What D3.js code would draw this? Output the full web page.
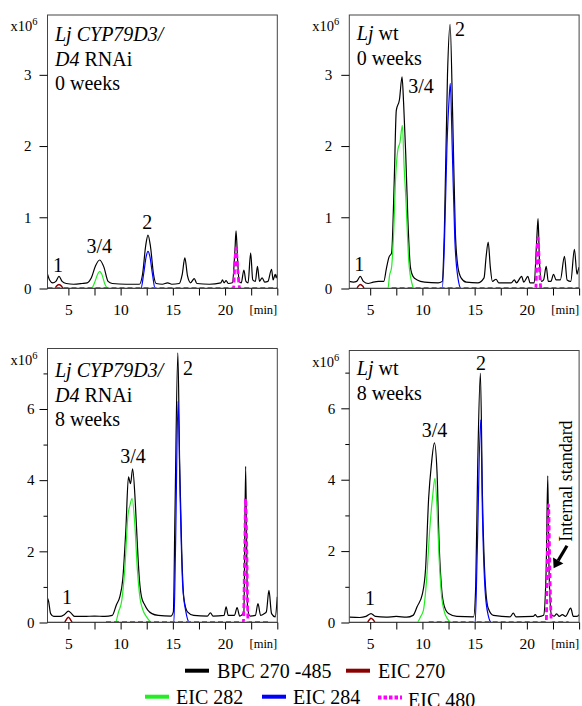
<!DOCTYPE html>
<html>
<head>
<meta charset="utf-8">
<script src="https://cdn.jsdelivr.net/npm/d3@7"></script>
<style>
body { margin: 0; background: #fff; }
svg { display: block; }
</style>
</head>
<body>
<div id="chart"></div>
<script>
// retention time window (min) and tick values
const timeDomain = [3, 25];
const timeTicks = [5, 7.5, 10, 12.5, 15, 17.5, 20, 22.5, 25];
const timeLabels = [5, 10, 15, 20];
const topYTicks = [0, 1, 2, 3];
const bottomYTicks = [0, 2, 4, 6];
const bottomYMinor = [1, 3, 5, 7];

const seriesNames = ["BPC 270 -485", "EIC 270", "EIC 282", "EIC 284", "EIC 480"];

// every trace: [retention time (min), intensity (x10^6)]
// Lj CYP79D3/D4 RNAi, 0 weeks
const rnai0Bpc = [[3.0,0.2],[3.2,0.12],[3.5,0.08],[3.8,0.1],[4.1,0.17],[4.4,0.1],[4.8,0.07],[5.5,0.06],[6.3,0.07],[6.8,0.08],
    [7.2,0.15],[7.6,0.32],[8.0,0.4],[8.4,0.3],[8.8,0.1],[9.2,0.07],[10.5,0.06],[11.8,0.06],[12.1,0.2],[12.4,0.6],[12.62,0.75],
    [12.85,0.6],[13.15,0.2],[13.4,0.07],[14.0,0.06],[14.5,0.08],[14.9,0.06],[15.6,0.07],[15.9,0.2],[16.15,0.43],[16.4,0.18],
    [16.7,0.08],[17.05,0.14],[17.3,0.07],[18.5,0.06],[19.6,0.08],[19.75,0.12],[19.9,0.08],[20.1,0.11],[20.3,0.07],[20.7,0.08],
    [20.95,0.55],[21.05,0.81],[21.2,0.4],[21.35,0.1],[21.55,0.08],[21.8,0.26],[22.0,0.1],[22.2,0.08],[22.45,0.5],[22.65,0.12],
    [22.9,0.1],[23.1,0.31],[23.3,0.1],[23.55,0.15],[23.8,0.09],[24.1,0.1],[24.45,0.27],[24.6,0.12],[24.8,0.2],[24.9,0.15],[25.0,0.2]];
const rnai0Eic270 = [[3,0],[3.7,0],[3.85,0.03],[4.1,0.055],[4.35,0.03],[4.5,0],[25,0]];
const rnai0Eic282 = [[3,0],[7.2,0],[7.5,0.08],[7.8,0.2],[8.0,0.24],[8.2,0.2],[8.5,0.06],[8.8,0],[25,0]];
const rnai0Eic284 = [[3,0],[11.95,0],[12.2,0.2],[12.45,0.45],[12.62,0.52],[12.8,0.45],[13.05,0.2],[13.3,0],[25,0]];
const rnai0Eic480 = [[3,0],[20.8,0],[20.95,0.4],[21.05,0.57],[21.2,0.3],[21.4,0],[25,0]];

// Lj wt, 0 weeks
const wt0Bpc = [[3.0,0.1],[3.4,0.09],[3.7,0.1],[4.05,0.17],[4.35,0.1],[4.8,0.07],[5.3,0.09],[5.8,0.1],[6.3,0.1],[6.55,0.28],
    [6.8,0.44],[7.05,0.5],[7.3,1.5],[7.5,2.5],[7.8,2.65],[8.05,2.97],[8.2,2.6],[8.4,1.9],[8.6,1.0],[8.85,0.3],[9.1,0.17],
    [9.5,0.12],[10.2,0.09],[11.5,0.08],[11.9,0.1],[12.1,0.8],[12.4,3.0],[12.65,3.71],[12.9,2.4],[13.15,0.8],[13.4,0.3],
    [13.7,0.15],[14.2,0.09],[15.3,0.08],[15.9,0.15],[16.1,0.45],[16.3,0.65],[16.5,0.3],[16.7,0.1],[17.05,0.13],[17.3,0.08],
    [18.5,0.08],[18.8,0.12],[19.0,0.08],[19.5,0.17],[19.7,0.09],[20.1,0.17],[20.3,0.08],[20.7,0.08],[20.95,0.7],[21.07,0.98],
    [21.2,0.4],[21.4,0.1],[21.6,0.12],[21.85,0.31],[22.05,0.1],[22.3,0.1],[22.55,0.2],[22.8,0.12],[23.2,0.12],[23.6,0.45],
    [23.85,0.12],[24.2,0.1],[24.55,0.55],[24.8,0.2],[24.9,0.25],[25.0,0.3]];
const wt0Eic270 = [[3,0],[3.7,0],[3.85,0.03],[4.05,0.056],[4.3,0.03],[4.45,0],[25,0]];
const wt0Eic282 = [[3,0],[6.7,0],[6.85,0.18],[7.05,0.3],[7.25,0.8],[7.45,1.6],[7.65,1.95],[7.85,2.05],[8.08,2.29],
    [8.25,1.7],[8.4,1.3],[8.7,0.37],[9.0,0.07],[9.2,0],[25,0]];
const wt0Eic284 = [[3,0],[11.9,0],[12.1,0.6],[12.35,2.0],[12.55,2.65],[12.67,2.88],[12.85,2.0],[13.1,0.7],[13.4,0.15],[13.7,0],[25,0]];
const wt0Eic480 = [[7.05,0],[20.85,0],[20.97,0.5],[21.07,0.71],[21.2,0.3],[21.35,0],[25,0]];

// Lj CYP79D3/D4 RNAi, 8 weeks
const rnai8Bpc = [[3.0,0.68],[3.1,0.6],[3.3,0.25],[3.6,0.17],[4.2,0.17],[4.6,0.22],[5.0,0.32],[5.3,0.25],[5.6,0.17],[6.5,0.17],
    [7.5,0.18],[8.5,0.17],[9.2,0.2],[9.6,0.5],[9.9,0.7],[10.2,1.2],[10.5,2.6],[10.75,4.09],[10.95,3.9],[11.15,4.32],[11.4,3.4],
    [11.6,2.2],[11.8,1.2],[12.0,0.72],[12.3,0.5],[12.6,0.35],[13.0,0.25],[13.6,0.2],[14.8,0.18],[15.05,0.3],[15.2,3.0],
    [15.48,7.58],[15.65,4.5],[15.85,2.0],[16.05,0.7],[16.4,0.3],[17.0,0.2],[18.3,0.18],[18.6,0.27],[18.85,0.18],[19.9,0.2],
    [20.1,0.44],[20.3,0.2],[20.9,0.2],[21.15,0.42],[21.4,0.18],[21.8,0.3],[21.97,4.39],[22.15,0.4],[22.4,0.18],[22.9,0.2],
    [23.15,0.53],[23.4,0.2],[23.75,0.25],[23.95,0.3],[24.2,0.9],[24.45,0.25],[24.8,0.16],[25.0,0.72]];
const rnai8Eic270 = [[3,0],[4.6,0],[4.8,0.08],[5.0,0.15],[5.2,0.08],[5.4,0],[25,0]];
const rnai8Eic282 = [[3,0],[9.5,0],[9.8,0.3],[10.1,0.6],[10.4,1.5],[10.7,3.0],[10.9,3.3],[11.1,3.48],[11.35,2.8],[11.6,1.5],
    [11.85,0.7],[12.1,0.38],[12.5,0.15],[13.0,0],[25,0]];
const rnai8Eic284 = [[3,0],[15.1,0],[15.25,2.0],[15.5,6.22],[15.7,3.5],[15.95,1.0],[16.25,0.3],[16.6,0],[25,0]];
const rnai8Eic480 = [[8.6,0],[21.75,0],[21.88,2.0],[21.97,3.48],[22.08,2.0],[22.2,0],[24.3,0]];

// Lj wt, 8 weeks
const wt8Bpc = [[3.0,0.15],[4.0,0.14],[4.6,0.17],[5.08,0.25],[5.5,0.17],[6.5,0.15],[7.5,0.17],[8.5,0.15],[9.1,0.2],[9.5,0.45],
    [10.0,0.8],[10.3,1.5],[10.6,3.5],[10.85,4.4],[11.15,5.03],[11.4,4.2],[11.6,2.2],[11.85,0.9],[12.1,0.45],[12.5,0.25],
    [13.3,0.17],[14.9,0.16],[15.1,1.0],[15.3,4.5],[15.55,6.98],[15.75,3.5],[16.0,1.2],[16.3,0.4],[16.8,0.2],[18.4,0.16],
    [18.7,0.26],[18.95,0.16],[20.6,0.17],[20.8,0.22],[21.0,0.16],[21.4,0.18],[21.6,0.2],[21.85,1.5],[22.0,4.11],[22.12,1.5],
    [22.35,0.22],[22.6,0.18],[22.85,0.24],[23.1,0.17],[23.4,0.22],[23.7,0.17],[24.2,0.4],[24.45,0.17],[24.8,0.17],[25.0,0.22]];
const wt8Eic270 = [[3,0],[4.7,0],[4.9,0.07],[5.08,0.12],[5.3,0.07],[5.5,0],[25,0]];
const wt8Eic282 = [[3,0],[9.5,0],[9.8,0.15],[10.1,0.35],[10.4,1.2],[10.7,2.6],[11.0,3.6],[11.2,4.04],[11.4,3.2],[11.6,1.8],
    [11.85,0.7],[12.1,0.3],[12.4,0.1],[12.8,0],[25,0]];
const wt8Eic284 = [[3,0],[15.05,0],[15.25,2.0],[15.58,5.68],[15.75,3.0],[16.0,0.9],[16.3,0.2],[16.6,0],[25,0]];
const wt8Eic480 = [[10.6,0],[21.85,0],[21.97,2.0],[22.07,3.3],[22.2,1.5],[22.35,0],[24.0,0]];

// peak numbers: [label, time, intensity]
const rnai0Peaks = [["1", 4.0, 0.23], ["3/4", 7.95, 0.5], ["2", 12.56, 0.83]];
const wt0Peaks = [["1", 3.96, 0.25], ["2", 13.6, 3.55]];
const rnai8Peaks = [["1", 4.86, 0.53], ["3/4", 11.19, 4.47], ["2", 16.45, 6.95]];
const wt8Peaks = [["1", 4.98, 0.5], ["3/4", 11.15, 5.19], ["2", 15.6, 7.08]];

const colors = ["#000000", "#8b0000", "#22ee22", "#0000ff", "#ff00ff"];

const panels = [
    { left: 47.5, top: 15, bottom: 288.5, ymax: 3.84, ticks: topYTicks, minor: [], pad: 8, titleY: 41,
      title: [[["Lj CYP79D3/", true]], [["D4", true], [" RNAi", false]], [["0 weeks", false]]],
      series: [rnai0Bpc, rnai0Eic270, rnai0Eic282, rnai0Eic284, rnai0Eic480], peaks: rnai0Peaks },
    { left: 349.3, top: 15, bottom: 288.5, ymax: 3.84, ticks: topYTicks, minor: [], pad: 9, titleY: 40,
      title: [[["Lj", true], [" wt", false]], [["0 weeks", false]]],
      series: [wt0Bpc, wt0Eic270, wt0Eic282, wt0Eic284, wt0Eic480], peaks: wt0Peaks },
    { left: 47.5, top: 348.5, bottom: 622.5, ymax: 7.7, ticks: bottomYTicks, minor: bottomYMinor, pad: 5, titleY: 377,
      title: [[["Lj CYP79D3/", true]], [["D4", true], [" RNAi", false]], [["8 weeks", false]]],
      series: [rnai8Bpc, rnai8Eic270, rnai8Eic282, rnai8Eic284, rnai8Eic480], peaks: rnai8Peaks },
    { left: 349.3, top: 350.5, bottom: 622.5, ymax: 7.62, ticks: bottomYTicks, minor: bottomYMinor, pad: 6, titleY: 375,
      title: [[["Lj", true], [" wt", false]], [["8 weeks", false]]],
      series: [wt8Bpc, wt8Eic270, wt8Eic282, wt8Eic284, wt8Eic480], peaks: wt8Peaks }
];

const width = 582;
const height = 706;
const panelWidth = 229.8;

const svg = d3.select("#chart")
    .append("svg")
    .attr("width", width)
    .attr("height", height)
    .attr("font-family", "'Liberation Serif', 'Times New Roman', serif");

panels.forEach((p, i) => {
    const x = d3.scaleLinear().domain(timeDomain).range([p.left, p.left + panelWidth]);
    const y = d3.scaleLinear().domain([0, p.ymax]).range([p.bottom, p.top]);
    const g = svg.append("g");

    g.append("clipPath")
        .attr("id", "clip" + i)
        .append("rect")
        .attr("x", p.left)
        .attr("y", p.top)
        .attr("width", panelWidth)
        .attr("height", p.bottom - p.top);

    const line = d3.line()
        .x(d => x(d[0]))
        .y(d => y(d[1]))
        .curve(d3.curveMonotoneX);

    const traces = g.append("g").attr("clip-path", "url(#clip" + i + ")");
    p.series.forEach((s, k) => {
        traces.append("path")
            .datum(s)
            .attr("d", line)
            .attr("fill", "none")
            .attr("stroke", colors[k])
            .attr("stroke-width", k === 4 ? 2.8 : (k === 1 ? 1.5 : 1.2))
            .attr("stroke-dasharray", k === 4 ? "5,3" : null)
            .attr("stroke-linejoin", "round");
    });

    // frame
    g.append("rect")
        .attr("x", p.left)
        .attr("y", p.top)
        .attr("width", panelWidth)
        .attr("height", p.bottom - p.top)
        .attr("fill", "none")
        .attr("stroke", "#444")
        .attr("stroke-width", 1);

    const yAxis = g.append("g")
        .attr("transform", "translate(" + p.left + ",0)")
        .call(d3.axisLeft(y).tickValues(p.ticks).tickSize(8).tickPadding(p.pad).tickFormat(d3.format("d")));
    yAxis.select(".domain").remove();
    yAxis.attr("font-family", null).attr("font-size", 15);

    if (p.minor.length) {
        const yMinor = g.append("g")
            .attr("transform", "translate(" + p.left + ",0)")
            .call(d3.axisLeft(y).tickValues(p.minor).tickSize(4).tickFormat(""));
        yMinor.select(".domain").remove();
    }

    const xAxis = g.append("g")
        .attr("transform", "translate(0," + p.bottom + ")")
        .call(d3.axisBottom(x).tickValues(timeTicks).tickSize(7).tickPadding(8)
            .tickFormat(d => timeLabels.includes(d) ? d : ""));
    xAxis.select(".domain").remove();
    xAxis.attr("font-family", null).attr("font-size", 15.5);

    g.append("text")
        .attr("x", p.left + panelWidth)
        .attr("y", p.bottom + 25)
        .attr("text-anchor", "end")
        .attr("font-size", 12.5)
        .text("[min]");

    // x10^6 scale note
    const unit = g.append("text")
        .attr("x", p.left - 37)
        .attr("y", p.top + 16)
        .attr("font-size", 14.5)
        .text("x10");
    unit.append("tspan")
        .attr("dy", -6)
        .attr("font-size", 10.5)
        .text("6");

    // sample title
    p.title.forEach((row, r) => {
        const t = g.append("text")
            .attr("x", p.left + 7.5)
            .attr("y", p.titleY + r * 24.5)
            .attr("font-size", 20);
        row.forEach(seg => {
            t.append("tspan")
                .attr("font-style", seg[1] ? "italic" : "normal")
                .text(seg[0]);
        });
    });

    g.selectAll(".peak")
        .data(p.peaks)
        .enter().append("text")
        .attr("class", "peak")
        .attr("x", d => x(d[1]))
        .attr("y", d => y(d[2]))
        .attr("text-anchor", "middle")
        .attr("font-size", 20)
        .text(d => d[0]);

    if (i === 1) {
        g.append("text")
            .attr("x", x(8.65))
            .attr("y", y(2.74))
            .attr("font-size", 20)
            .text("3/4");
    }

    if (i === 3) {
        g.append("text")
            .attr("transform", "translate(" + x(24.35) + "," + y(2.26) + ") rotate(-90)")
            .attr("font-size", 18)
            .text("Internal standard");
        const x0 = x(23.84), y0 = y(2.15), x1 = x(22.56), y1 = y(1.52);
        const ang = Math.atan2(y1 - y0, x1 - x0);
        const hx = x1 - 9 * Math.cos(ang), hy = y1 - 9 * Math.sin(ang);
        g.append("line")
            .attr("x1", x0).attr("y1", y0)
            .attr("x2", hx).attr("y2", hy)
            .attr("stroke", "#000")
            .attr("stroke-width", 3.2);
        const px = -Math.sin(ang) * 6, py = Math.cos(ang) * 6;
        g.append("path")
            .attr("d", "M" + x1 + "," + y1 + "L" + (hx + px) + "," + (hy + py) + "L" + (hx - px) + "," + (hy - py) + "Z")
            .attr("fill", "#000");
    }
});

// legend in two rows
const legendItems = [
    { k: 0, lx: 185, tx: 217, ly: 670.7, ty: 678 },
    { k: 1, lx: 346, tx: 378, ly: 670.7, ty: 678 },
    { k: 2, lx: 145, tx: 176, ly: 696.7, ty: 703.5 },
    { k: 3, lx: 262, tx: 293, ly: 696.7, ty: 703.5 },
    { k: 4, lx: 378, tx: 408, ly: 697.5, ty: 707 }
];

const legend = svg.selectAll(".legend")
    .data(legendItems)
    .enter().append("g")
    .attr("class", "legend");

legend.append("line")
    .attr("x1", d => d.lx)
    .attr("x2", d => d.lx + 24)
    .attr("y1", d => d.ly)
    .attr("y2", d => d.ly)
    .attr("stroke", d => colors[d.k])
    .attr("stroke-width", 4)
    .attr("stroke-dasharray", d => d.k === 4 ? "3.5,2" : null);

legend.append("text")
    .attr("x", d => d.tx)
    .attr("y", d => d.ty)
    .attr("font-size", 20)
    .text(d => seriesNames[d.k]);
</script>
</body>
</html>
